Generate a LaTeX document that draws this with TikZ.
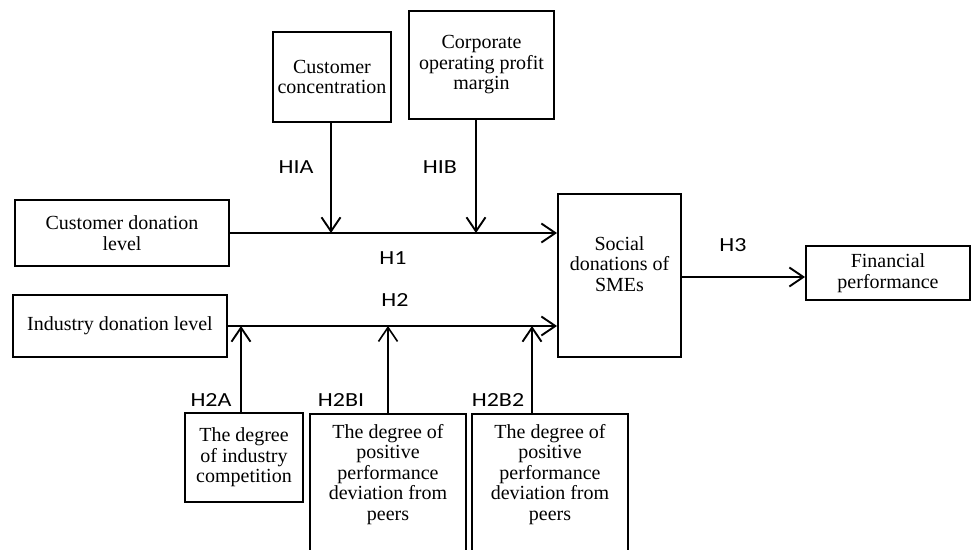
\documentclass[tikz,border=0pt]{standalone}
\usepackage{fontspec}
\setmainfont{Liberation Serif}
\newfontfamily\labfont{Carlito}
\usetikzlibrary{arrows.meta}
\tikzset{
  box/.style={draw, line width=1.9pt, rectangle, inner sep=0pt, align=center,
    font=\fontsize{20}{20.5}\selectfont},
  txt/.style={inner sep=0pt, align=center, font=\fontsize{20}{20.5}\selectfont},
  arr/.style={line width=1.9pt, -{Straight Barb[length=14pt,width=19pt,line width=1.9pt]}},
  thinarr/.style={line width=1.3pt, -{Straight Barb[length=14pt,width=19pt,line width=1.6pt]}},
  hlab/.style={inner sep=0pt, font=\labfont\fontsize{20}{20}\selectfont}
}
\newcommand{\wide}[1]{\scalebox{1.2}[1]{#1}}
\begin{document}
\begin{tikzpicture}[x=1pt,y=-1pt]
\useasboundingbox (0,0) rectangle (972,549);
\fill[white] (0,0) rectangle (972,549);
\begin{scope}
\clip (0,0) rectangle (972,549);
% boxes
\node[box, minimum width=118pt, minimum height=90pt] (cc) at (332,77) {Customer\\concentration};
\node[box, minimum width=145pt, minimum height=108pt] (corp) at (481.5,65) {Corporate\\operating profit\\margin};
\node[box, minimum width=214pt, minimum height=66pt] (cdl) at (122,233) {Customer donation\\level};
\node[box, minimum width=214pt, minimum height=62pt] (idl) at (120,326) {Industry donation level};
\node[box, minimum width=123pt, minimum height=163pt] (soc) at (619.5,275.5) {};
\node[txt] (soct) at (619.5,264) {Social\\donations of\\SMEs};
\node[box, minimum width=164pt, minimum height=54pt] (fin) at (888,273) {Financial\\performance};
\node[box, minimum width=118pt, minimum height=89pt] (h2a) at (244,457.5) {The degree\\of industry\\competition};
\node[box, minimum width=156pt, minimum height=150pt] (h2b1) at (388,489) {};
\node[txt, anchor=north] (h2b1t) at (388,424) {The degree of\\positive\\performance\\deviation from\\peers};
\node[box, minimum width=156pt, minimum height=150pt] (h2b2) at (550,489) {};
\node[txt, anchor=north] (h2b2t) at (550,424) {The degree of\\positive\\performance\\deviation from\\peers};
% junction coordinates
\coordinate (j1a) at (331,233);
\coordinate (j1b) at (476,233);
\coordinate (j2a) at (241,326);
\coordinate (j2b) at (388,326);
\coordinate (j2c) at (532,326);
\coordinate (j3) at (0,277);
% main arrows
\draw[arr] (cdl.east) -- (cdl.east -| soc.west);
\draw[arr] (idl.east) -- (idl.east -| soc.west);
\draw[arr] (soc.east |- j3) -- (fin.west |- j3);
% moderator arrows
\draw[arr] (cc.south -| j1a) -- (j1a);
\draw[arr] (corp.south -| j1b) -- (j1b);
\draw[arr] (h2a.north -| j2a) -- (j2a);
\draw[thinarr] (h2b1.north -| j2b) -- (j2b);
\draw[arr] (h2b2.north -| j2c) -- (j2c);
% labels
\node[hlab] (lHIA) at (296,167) {\wide{HIA}};
\node[hlab] (lHIB) at (440,167) {\wide{HIB}};
\node[hlab] (lH1) at (393,258) {\wide{H1}};
\node[hlab] (lH2) at (395,300) {\wide{H2}};
\node[hlab] (lH3) at (733,245) {\wide{H3}};
\node[hlab] (lH2A) at (211,400) {\wide{H2A}};
\node[hlab] (lH2B1) at (341,400) {\wide{H2BI}};
\node[hlab] (lH2B2) at (498,400) {\wide{H2B2}};
\end{scope}
\end{tikzpicture}
\end{document}
